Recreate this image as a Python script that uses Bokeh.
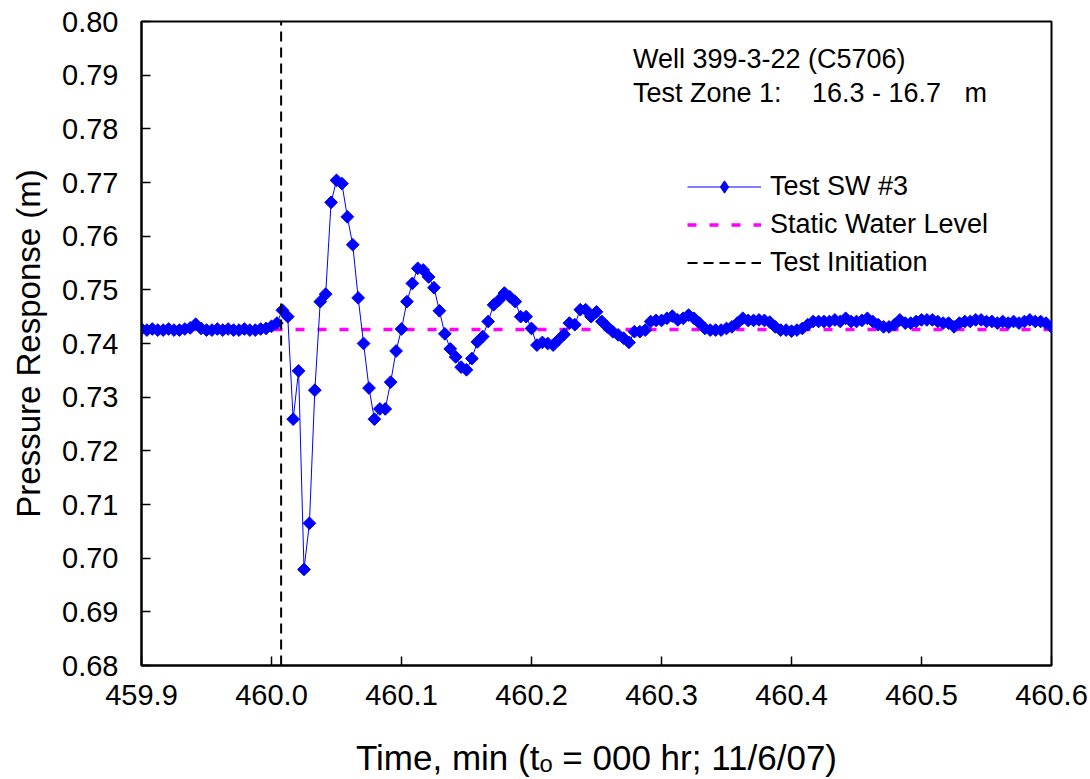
from bokeh.plotting import figure
from bokeh.models import (ColumnDataSource, Legend, LegendItem, Label,
                          NumeralTickFormatter, FixedTicker, Range1d,
                          CDSView, IndexFilter)
from bokeh.embed import file_html
from bokeh.resources import INLINE
import numpy as np

# ---------------- data ----------------
start_min = 459.9
sample_interval_s = 0.25

pressure_m = [
    0.7427, 0.7425, 0.7427, 0.7425, 0.7425, 0.7427, 0.7425, 0.7425, 0.7427, 0.7429,
    0.7436, 0.7428, 0.7425, 0.7425, 0.7427, 0.7425, 0.7427, 0.7425, 0.7425, 0.7427,
    0.7425, 0.7425, 0.7427, 0.7428, 0.7432, 0.7438,
    0.7462, 0.7450, 0.7259, 0.7349, 0.6979, 0.7065, 0.7313, 0.7478, 0.7492, 0.7663,
    0.7704, 0.7698, 0.7636, 0.7584, 0.7485, 0.7400, 0.7317, 0.7259, 0.7278, 0.7278,
    0.7328, 0.7386, 0.7427, 0.7478, 0.7512, 0.7540, 0.7537, 0.7524, 0.7504, 0.7461,
    0.7418, 0.7390, 0.7375, 0.7356,
    0.7351, 0.7372, 0.7403, 0.7413, 0.7441, 0.7472, 0.7481, 0.7494, 0.7487, 0.7478,
    0.7450, 0.7450, 0.7428, 0.7397, 0.7402, 0.7400, 0.7397, 0.7407, 0.7417, 0.7438,
    0.7435, 0.7463, 0.7463, 0.7450, 0.7459,
    0.7441, 0.7431, 0.7422, 0.7416, 0.7410, 0.7402, 0.7422, 0.7422, 0.7425, 0.7441,
    0.7443, 0.7443, 0.7447, 0.7451, 0.7444, 0.7447, 0.7453, 0.7447, 0.7438, 0.7428,
    0.7425, 0.7425, 0.7425, 0.7428, 0.7431, 0.7438, 0.7447, 0.7443, 0.7443,
    0.7444, 0.7443, 0.7440, 0.7431, 0.7425, 0.7425, 0.7423, 0.7425, 0.7428, 0.7435,
    0.7441, 0.7441, 0.7441, 0.7441, 0.7444, 0.7441, 0.7447, 0.7441, 0.7441, 0.7443,
    0.7447, 0.7441, 0.7435, 0.7431, 0.7431, 0.7435, 0.7444,
    0.7438, 0.7438, 0.7441, 0.7444, 0.7444, 0.7444, 0.7441, 0.7438, 0.7438, 0.7431,
    0.7438, 0.7441, 0.7441, 0.7444, 0.7444, 0.7441, 0.7441, 0.7438, 0.7441, 0.7438,
    0.7441, 0.7438, 0.7441, 0.7444, 0.7441, 0.7441, 0.7438, 0.7431,
]
time_min = [start_min + i * sample_interval_s / 60.0 for i in range(len(pressure_m))]

static_level_m = 0.7426
static_x = [459.9, 460.6]
static_y = [static_level_m, static_level_m]

initiation_min = 460.0074
init_x = [initiation_min, initiation_min]
init_y = [0.68, 0.80]

x_ticks = [459.9, 460.0, 460.1, 460.2, 460.3, 460.4, 460.5, 460.6]
y_ticks = [0.68, 0.69, 0.70, 0.71, 0.72, 0.73, 0.74, 0.75, 0.76, 0.77, 0.78, 0.79, 0.80]

series_label = "Test SW #3"
static_label = "Static Water Level"
init_label = "Test Initiation"
well_text = "Well 399-3-22 (C5706)"
zone_text = "Test Zone 1:"
zone_range = "16.3 - 16.7"
zone_unit = "m"
x_title = "Time, min (t\u2092 = 000 hr; 11/6/07)"
y_title = "Pressure Response (m)"

FONT = "Liberation Sans"

# ---------------- figure ----------------
p = figure(width=1090, height=779,
           x_range=Range1d(459.9, 460.6), y_range=Range1d(0.68, 0.80),
           output_backend="svg", toolbar_location=None,
           min_border_left=141, min_border_right=39,
           min_border_top=21, min_border_bottom=114)
p.xgrid.visible = False
p.ygrid.visible = False
p.outline_line_color = "black"
p.outline_line_width = 2
p.background_fill_color = "white"
p.border_fill_color = "white"

src = ColumnDataSource(dict(t=time_min, v=pressure_m))

r_static = p.line(static_x, static_y, line_color="#FF00FF", line_width=3.5,
                  line_dash="9 13")
r_line = p.line("t", "v", source=src, line_color="#0000FF", line_width=1)
r_pts = p.scatter("t", "v", source=src, marker="square", angle=np.pi / 4,
                  size=9, fill_color="#0000FF", line_color="#0000FF")
r_init = p.line(init_x, init_y, line_color="black", line_width=2,
                line_dash="10 6")
# diamond renderer (first sample only) that supplies the legend swatch
r_leg_marker = p.scatter("t", "v", source=src,
                         view=CDSView(filter=IndexFilter([0])),
                         marker="diamond", size=12,
                         fill_color="#0000FF", line_color="#0000FF")

# axes
for ax in (p.xaxis[0], p.yaxis[0]):
    ax.axis_line_width = 2
    ax.axis_line_color = "black"
    ax.major_tick_in = 9
    ax.major_tick_out = 0
    ax.major_tick_line_width = 1.5
    ax.minor_tick_line_color = None
    ax.major_label_text_font = FONT
    ax.major_label_text_font_size = "29px"
    ax.major_label_text_color = "black"
    ax.axis_label_text_font = FONT
    ax.axis_label_text_font_style = "normal"
    ax.axis_label_text_color = "black"

p.xaxis.axis_label_text_font_size = "35px"
p.yaxis.axis_label_text_font_size = "33px"
p.xaxis.ticker = FixedTicker(ticks=x_ticks)
p.yaxis.ticker = FixedTicker(ticks=y_ticks)
p.xaxis.formatter = NumeralTickFormatter(format="0.0")
p.yaxis.formatter = NumeralTickFormatter(format="0.00")
p.xaxis.major_label_standoff = 19
p.yaxis.major_label_standoff = 23
p.xaxis.axis_label = x_title
p.yaxis.axis_label = y_title
p.xaxis.axis_label_standoff = 30
p.yaxis.axis_label_standoff = 12

# annotation text
for x, y, txt in [(460.278, 0.7931, well_text),
                  (460.278, 0.7866, zone_text),
                  (460.4157, 0.7866, zone_range),
                  (460.533, 0.7866, zone_unit)]:
    p.add_layout(Label(x=x, y=y, text=txt, text_font=FONT,
                       text_font_size="27px", text_color="black",
                       text_baseline="alphabetic", text_align="left"))

legend = Legend(items=[LegendItem(label=series_label, renderers=[r_line, r_leg_marker]),
                       LegendItem(label=static_label, renderers=[r_static]),
                       LegendItem(label=init_label, renderers=[r_init])],
                location=(546, 387))
legend.background_fill_alpha = 0
legend.border_line_alpha = 0
legend.glyph_width = 74
legend.glyph_height = 31
legend.label_height = 31
legend.spacing = 7
legend.padding = 0
legend.margin = 0
legend.label_standoff = 9
legend.label_text_font = FONT
legend.label_text_font_size = "27px"
legend.label_text_color = "black"
p.add_layout(legend)

open("out.html", "w").write(file_html(p, INLINE))
